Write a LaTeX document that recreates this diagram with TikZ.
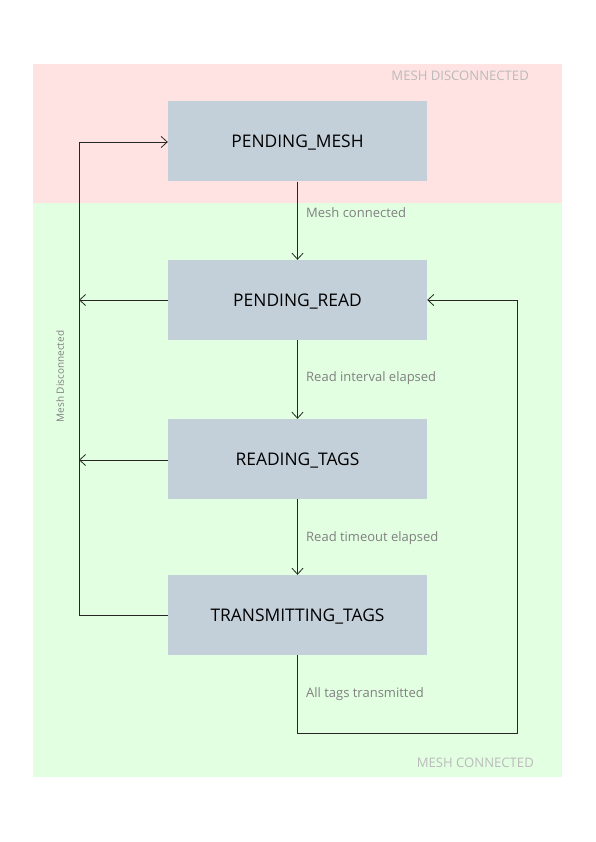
\documentclass[tikz,border=0pt]{standalone}
\usepackage{fontspec}
\setmainfont{Open Sans}
\usetikzlibrary{arrows.meta}
\definecolor{boxfill}{HTML}{C4D0D9}
\definecolor{redzone}{HTML}{FFE2E2}
\definecolor{greenzone}{HTML}{E2FFE2}
\definecolor{lbl}{HTML}{808080}
\definecolor{zonelbl}{HTML}{BBBBBB}
\tikzset{
  state/.style={fill=boxfill, minimum width=259pt, minimum height=80pt, inner sep=0pt, text height=12.4pt, text depth=0pt, font=\fontsize{17.4}{20}\selectfont},
  trans/.style={text=lbl, font=\fontsize{13}{15}\selectfont, anchor=west, inner sep=0pt},
  zone/.style={text=zonelbl, font=\fontsize{13.1}{15}\selectfont, inner sep=0pt},
  conn/.style={draw=black!85, line width=0.8pt, -{Straight Barb[length=6pt,width=11pt]}},
  plain/.style={draw=black!85, line width=0.8pt}
}
\begin{document}
\begin{tikzpicture}[x=1pt,y=-1pt]
\useasboundingbox (0,0) rectangle (595,842);
\fill[redzone] (33,64) rectangle (562,203);
\fill[greenzone] (33,203) rectangle (562,777);
\node[zone, anchor=east] (zd) at (529,76) {MESH DISCONNECTED};
\node[zone, anchor=east] (zc) at (534,763) {MESH CONNECTED};

\node[state] (pm) at (297.5,141.5) {PENDING\_MESH};
\node[state] (pr) at (297.5,300) {PENDING\_READ};
\node[state] (rt) at (297.5,459) {READING\_TAGS};
\node[state] (tt) at (297.5,615) {TRANSMITTING\_TAGS};

\coordinate (l1) at (79,142);
\coordinate (l2) at (79,300);
\coordinate (l3) at (79,460);
\coordinate (l4) at (79,615);
\coordinate (b1) at (297.5,733);
\coordinate (b2) at (517,733);
\coordinate (b3) at (517,300);

\draw[conn] (pm.south) -- (pr.north);
\draw[conn] (pr.south) -- (rt.north);
\draw[conn] (rt.south) -- (tt.north);
\draw[conn] (pr.west) -- (l2);
\draw[conn] (rt.west |- l3) -- (l3);
\draw[plain] (tt.west) -- (l4) -- (l1);
\draw[conn] (l1) -- (pm.west |- l1);
\draw[conn] (tt.south) -- (b1) -- (b2) -- (b3) -- (pr.east);

\node[trans] (t1) at (306,213) {Mesh connected};
\node[trans] (t2) at (306,378) {Read interval elapsed};
\node[trans] (t3) at (306,538) {Read timeout elapsed};
\node[trans] (t4) at (306,694) {All tags transmitted};
\node[text=lbl, font=\fontsize{10}{12}\selectfont, rotate=90, inner sep=0pt] (md) at (60,376.5) {Mesh Disconnected};
\end{tikzpicture}
\end{document}
